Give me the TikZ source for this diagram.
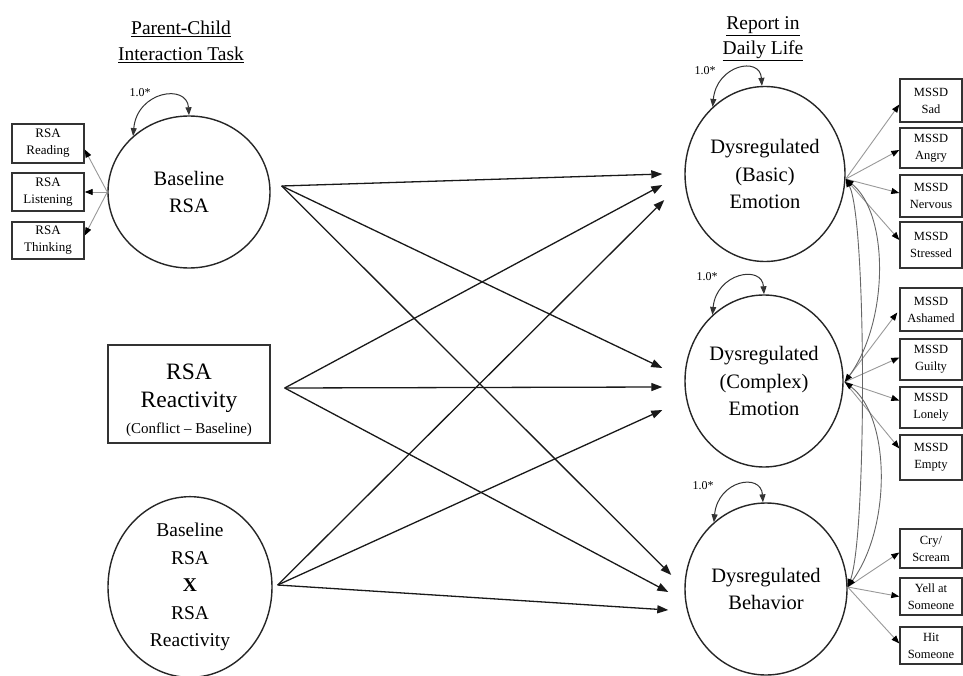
\documentclass[tikz,border=0pt]{standalone}
\usepackage{fontspec}
\setmainfont{Liberation Serif}
\usetikzlibrary{arrows.meta,shapes.geometric,calc}
\begin{document}
\begin{tikzpicture}[x=1pt,y=-1pt,
  lat/.style={ellipse,draw=black!85,line width=1.4pt,inner sep=0pt,align=center,font=\fontsize{20.5}{27.5}\selectfont},
  obs/.style={rectangle,draw=black!80,line width=1.4pt,inner sep=0pt,align=center,font=\fontsize{12.5}{17}\selectfont,minimum width=62pt},
  lobs/.style={rectangle,draw=black!80,line width=1.4pt,inner sep=0pt,align=center,font=\fontsize{13}{17}\selectfont,minimum width=72pt},
  mainarrow/.style={draw=black!90,line width=1.3pt,-{Triangle[length=11pt,width=8pt]}},
  load/.style={draw=black!40,line width=0.9pt,-{Triangle[length=8pt,width=6pt,color=black]}},
  cov/.style={draw=black!60,line width=0.9pt,{Triangle[length=8pt,width=6pt,color=black]}-{Triangle[length=8pt,width=6pt,color=black]}},
  selfvar/.style={draw=black!80,line width=1pt,{Triangle[length=8pt,width=6pt]}-{Triangle[length=8pt,width=6pt]}},
  lbl/.style={font=\fontsize{12}{14}\selectfont,inner sep=0pt},
  ttl/.style={font=\fontsize{19.5}{26.5}\selectfont,align=center,inner sep=0pt},
  bigtxt/.style={font=\fontsize{23.5}{28}\selectfont,inner sep=0pt}
]
\useasboundingbox (0,0) rectangle (963,676);
\fill[white] (0,0) rectangle (963,676);

% titles
\node[ttl] (t1) at (181,42) {\underline{Parent-Child}\\\underline{Interaction Task}};
\node[ttl,font=\fontsize{19.5}{25}\selectfont] (t2) at (763,39) {\underline{Report in}\\\underline{Daily Life}};

% left latent and predictors
\node[lat,minimum width=162pt,minimum height=152pt] (brsa) at (189,192) {Baseline\\RSA};
\node[rectangle,draw=black!80,line width=1.4pt,minimum width=162pt,minimum height=98pt,inner sep=0pt] (react) at (189,394) {};
\node[bigtxt] (rx1) at (189,372) {RSA};
\node[bigtxt] (rx2) at (189,402) {Reactivity};
\node[font=\fontsize{15}{17}\selectfont,inner sep=0pt] (rx3) at (189,430) {(Conflict -- Baseline)};
\node[lat,minimum width=164pt,minimum height=153pt,font=\fontsize{19.5}{27.5}\selectfont] (inter) at (190,587)
  {Baseline\\RSA\\\textbf{X}\\RSA\\Reactivity};

% left indicators
\node[lobs,minimum height=39pt] (rread) at (48,143.5) {RSA\\Reading};
\node[lobs,minimum height=38pt] (rlist) at (48,192) {RSA\\Listening};
\node[lobs,minimum height=37pt] (rthin) at (48,240.5) {RSA\\Thinking};

% right latents
\node[lat,minimum width=160pt,minimum height=175pt] (basic) at (765,174) {Dysregulated\\(Basic)\\Emotion};
\node[lat,minimum width=158pt,minimum height=172pt] (cmplx) at (764,381) {Dysregulated\\(Complex)\\Emotion};
\node[lat,minimum width=162pt,minimum height=172pt] (behav) at (766,589) {Dysregulated\\Behavior};

% right indicators
\node[obs,minimum height=43pt] (sad) at (931,100.5) {MSSD\\Sad};
\node[obs,minimum height=40pt] (angry) at (931,148) {MSSD\\Angry};
\node[obs,minimum height=42pt] (nerv) at (931,196) {MSSD\\Nervous};
\node[obs,minimum height=46pt] (stress) at (931,245) {MSSD\\Stressed};
\node[obs,minimum height=43pt] (asham) at (931,309.5) {MSSD\\Ashamed};
\node[obs,minimum height=41pt] (guilt) at (931,359.5) {MSSD\\Guilty};
\node[obs,minimum height=41pt] (lonel) at (931,407.5) {MSSD\\Lonely};
\node[obs,minimum height=45pt] (empty) at (931,457.5) {MSSD\\Empty};
\node[obs,minimum height=39pt] (cry) at (931,548.5) {Cry/\\Scream};
\node[obs,minimum height=37pt] (yell) at (931,596.5) {Yell at\\Someone};
\node[obs,minimum height=37pt] (hit) at (931,645.5) {Hit\\Someone};

% self-variance loops
\draw[selfvar] (brsa.135) .. controls +(4,-45) and +(-2,-32) .. (brsa.90);
\draw[selfvar] (basic.128) .. controls +(4,-42) and +(-2,-30) .. (basic.92);
\draw[selfvar] (cmplx.128) .. controls +(4,-42) and +(-2,-30) .. (cmplx.90);
\draw[selfvar] (behav.128) .. controls +(4,-42) and +(-2,-30) .. (behav.92);
\node[lbl] (l1) at (140,93) {1.0*};
\node[lbl] (l2) at (705,71) {1.0*};
\node[lbl] (l3) at (707,277) {1.0*};
\node[lbl] (l4) at (703,486) {1.0*};

% connection points
\coordinate (s1) at ($(brsa.east)+(11,-6)$);
\coordinate (s2) at ($(react.east)+(14,-6)$);
\coordinate (s3) at ($(inter.east)+(5,-2)$);
\coordinate (t11) at ($(basic.west)+(-22,0)$);
\coordinate (t21) at ($(basic.west)+(-22,11)$);
\coordinate (t31) at ($(basic.west)+(-20,26)$);
\coordinate (t12) at ($(cmplx.west)+(-22,-13)$);
\coordinate (t22) at ($(cmplx.west)+(-22,6)$);
\coordinate (t32) at ($(cmplx.west)+(-22,29)$);
\coordinate (t13) at ($(behav.west)+(-13,-14)$);
\coordinate (t23) at ($(behav.west)+(-16,3)$);
\coordinate (t33) at ($(behav.west)+(-16,21)$);

% structural paths
\draw[mainarrow] (s1) -- (t11);
\draw[mainarrow] (s1) -- (t12);
\draw[mainarrow] (s1) -- (t13);
\draw[mainarrow] (s2) -- (t21);
\draw[mainarrow] (s2) -- (t22);
\draw[mainarrow] (s2) -- (t23);
\draw[mainarrow] (s3) -- (t31);
\draw[mainarrow] (s3) -- (t32);
\draw[mainarrow] (s3) -- (t33);

% left loadings
\coordinate (bl) at (brsa.west);
\draw[load] (bl) -- ($(rread.east)+(0,6)$);
\draw[load] (bl) -- (rlist.east);
\draw[load] (bl) -- ($(rthin.east)+(0,-5)$);

% right loadings
\coordinate (bo) at ($(basic.east)+(0,5)$);
\coordinate (co) at ($(cmplx.east)+(1,1)$);
\coordinate (ho) at ($(behav.east)+(0,-2)$);
\draw[load] (bo) -- ($(sad.west)+(0,4)$);
\draw[load] (bo) -- ($(angry.west)+(0,2)$);
\draw[load] (bo) -- ($(nerv.west)+(0,-3)$);
\draw[load] (bo) -- ($(stress.west)+(0,-5)$);
\draw[load] (co) -- ($(asham.west)+(-2,3)$);
\draw[load] (co) -- ($(guilt.west)+(0,-2)$);
\draw[load] (co) -- ($(lonel.west)+(0,-7)$);
\draw[load] (co) -- ($(empty.west)+(0,-9)$);
\draw[load] (ho) -- ($(cry.west)+(0,4)$);
\draw[load] (ho) -- (yell.west);
\draw[load] (ho) -- ($(hit.west)+(0,-2)$);

% covariances
\draw[cov] (bo) .. controls +(44,35) and +(44,-60) .. (co);
\draw[cov] (co) .. controls +(46,35) and +(44,-60) .. (ho);
\draw[cov] (bo) .. controls +(21,40) and +(19,-50) .. (ho);
\end{tikzpicture}
\end{document}
